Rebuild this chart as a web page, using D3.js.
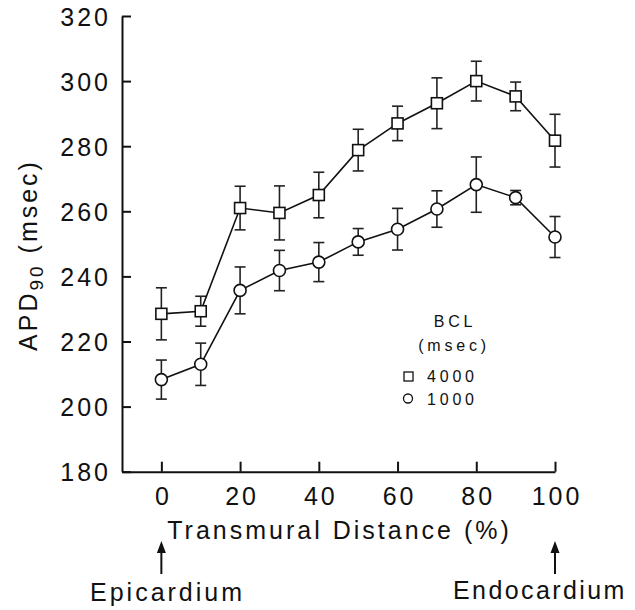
<!DOCTYPE html>
<html>
<head>
<meta charset="utf-8">
<script src="https://cdn.jsdelivr.net/npm/d3@7"></script>
<style>
  body { margin: 0; background: #fff; }
  text { font-family: "Liberation Sans", Arial, sans-serif; fill: #111; }
</style>
</head>
<body>
<div id="chart"></div>
<script>
var width = 635,
    height = 610;

// transmural position (%)
var distance = [0, 10, 20, 30, 40, 50, 60, 70, 80, 90, 100];
// BCL 4000 msec
var apd4000 = [228.5, 229.3, 261, 259.5, 265, 278.8, 287, 293.2, 300, 295.3, 281.7];
var err4000 = [8, 4.6, 6.7, 8.3, 7, 6.4, 5.3, 7.8, 6.1, 4.4, 8.1];
// BCL 1000 msec
var apd1000 = [208.3, 213, 235.7, 241.8, 244.4, 250.6, 254.5, 260.7, 268.2, 264.2, 252.1];
var err1000 = [6, 6.5, 7.2, 6.2, 6, 4.1, 6.4, 5.6, 8.5, 2.2, 6.3];

var xTicks = [0, 20, 40, 60, 80, 100];
var yTicks = [180, 200, 220, 240, 260, 280, 300, 320];

var x = d3.scaleLinear().domain([-10, 100]).range([122, 555]);
var y = d3.scaleLinear().domain([180, 320]).range([471.7, 16]);

var svg = d3.select("#chart").append("svg")
    .attr("width", width)
    .attr("height", height);

// axes
var yAxis = svg.append("g")
    .attr("transform", "translate(" + x(-10) + ",0)")
    .call(d3.axisLeft(y).tickValues(yTicks).tickSize(-9).tickSizeOuter(0).tickPadding(14));
var xAxis = svg.append("g")
    .attr("transform", "translate(0," + y(180) + ")")
    .call(d3.axisBottom(x).tickValues(xTicks).tickSize(-10).tickSizeOuter(0).tickPadding(16));

[yAxis, xAxis].forEach(function (g) {
    g.select(".domain").attr("stroke", "#111").attr("stroke-width", 2);
    g.selectAll(".tick line").attr("stroke", "#111").attr("stroke-width", 2);
    g.selectAll(".tick text")
        .style("font-family", '"Liberation Sans", Arial, sans-serif')
        .style("font-size", "25px")
        .style("letter-spacing", "3px")
        .attr("fill", "#111");
});
yAxis.selectAll(".tick text").attr("dy", "0.36em").attr("dx", "3px");
xAxis.selectAll(".tick text").attr("dy", "0.71em").attr("dx", "1.5px");

// axis titles
svg.append("text")
    .attr("x", x(45) + 1)
    .attr("y", 539)
    .attr("text-anchor", "middle")
    .style("font-size", "25px")
    .style("letter-spacing", "3px")
    .text("Transmural Distance (%)");

var yt = svg.append("text")
    .attr("transform", "translate(37,255) rotate(-90)")
    .attr("text-anchor", "middle")
    .style("font-size", "25px")
    .style("letter-spacing", "3px");
yt.append("tspan").text("APD");
yt.append("tspan").attr("dy", 6).style("font-size", "19px").text("90");
yt.append("tspan").attr("dy", -6).text(" (msec)");

// series
var series = [
    {name: "4000", values: apd4000, err: err4000, shape: "square"},
    {name: "1000", values: apd1000, err: err1000, shape: "circle"}
];

var line = d3.line()
    .x(function (d) { return x(d.x); })
    .y(function (d) { return y(d.y); });

series.forEach(function (s) {
    var pts = distance.map(function (d, i) {
        return {x: d, y: s.values[i], e: s.err[i]};
    });
    var g = svg.append("g");

    // error bars
    var eb = g.selectAll(".err").data(pts).enter().append("g")
        .attr("stroke", "#222").attr("stroke-width", 1.6);
    eb.append("line")
        .attr("x1", function (d) { return x(d.x); })
        .attr("x2", function (d) { return x(d.x); })
        .attr("y1", function (d) { return y(d.y - d.e); })
        .attr("y2", function (d) { return y(d.y + d.e); });
    eb.append("line")
        .attr("x1", function (d) { return x(d.x) - 5.5; })
        .attr("x2", function (d) { return x(d.x) + 5.5; })
        .attr("y1", function (d) { return y(d.y + d.e); })
        .attr("y2", function (d) { return y(d.y + d.e); });
    eb.append("line")
        .attr("x1", function (d) { return x(d.x) - 5.5; })
        .attr("x2", function (d) { return x(d.x) + 5.5; })
        .attr("y1", function (d) { return y(d.y - d.e); })
        .attr("y2", function (d) { return y(d.y - d.e); });

    g.append("path")
        .datum(pts)
        .attr("d", line)
        .attr("fill", "none")
        .attr("stroke", "#111")
        .attr("stroke-width", 1.6);

    if (s.shape === "square") {
        g.selectAll(".mk").data(pts).enter().append("rect")
            .attr("x", function (d) { return x(d.x) - 5.5; })
            .attr("y", function (d) { return y(d.y) - 5.5; })
            .attr("width", 11).attr("height", 11)
            .attr("fill", "#fff").attr("stroke", "#111").attr("stroke-width", 1.6);
    } else {
        g.selectAll(".mk").data(pts).enter().append("circle")
            .attr("cx", function (d) { return x(d.x); })
            .attr("cy", function (d) { return y(d.y); })
            .attr("r", 6)
            .attr("fill", "#fff").attr("stroke", "#111").attr("stroke-width", 1.6);
    }
});

// legend
var lg = svg.append("g").style("font-size", "16px").style("letter-spacing", "3.8px");
lg.append("text").attr("x", 455).attr("y", 327).attr("text-anchor", "middle").text("BCL");
lg.append("text").attr("x", 454).attr("y", 351).attr("text-anchor", "middle").text("(msec)");
lg.append("rect").attr("x", 404).attr("y", 372).attr("width", 9).attr("height", 9)
    .attr("fill", "#fff").attr("stroke", "#111").attr("stroke-width", 1.3);
lg.append("text").attr("x", 427).attr("y", 382).text("4000");
lg.append("circle").attr("cx", 408).attr("cy", 398.5).attr("r", 4.5)
    .attr("fill", "#fff").attr("stroke", "#111").attr("stroke-width", 1.3);
lg.append("text").attr("x", 427).attr("y", 405).text("1000");

// epicardium / endocardium arrows
var ends = [{x: 0, label: "Epicardium", tx: 90, ty: 601}, {x: 100, label: "Endocardium", tx: 453, ty: 599}];
ends.forEach(function (d) {
    var cx = x(d.x);
    svg.append("line")
        .attr("x1", cx).attr("x2", cx)
        .attr("y1", 550).attr("y2", 574)
        .attr("stroke", "#111").attr("stroke-width", 2);
    svg.append("path")
        .attr("d", "M" + cx + ",541 L" + (cx - 4.5) + ",553 L" + (cx + 4.5) + ",553 Z")
        .attr("fill", "#111");
    svg.append("text")
        .attr("x", d.tx)
        .attr("y", d.ty)
        .style("font-size", "25px")
        .style("letter-spacing", d.x === 100 ? "2.4px" : "3px")
        .text(d.label);
});
</script>
</body>
</html>
